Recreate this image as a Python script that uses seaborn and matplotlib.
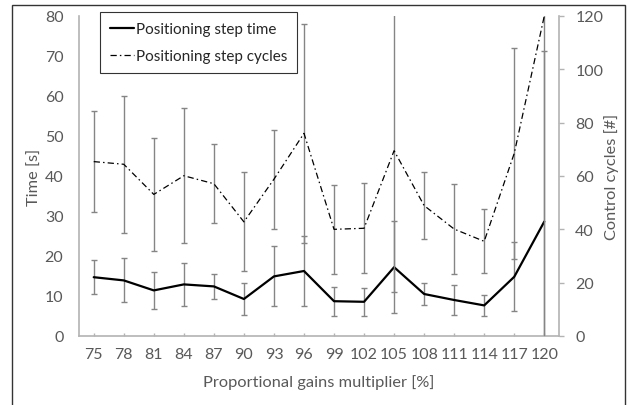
import matplotlib
matplotlib.use("Agg")
import matplotlib.pyplot as plt
import seaborn as sns
import numpy as np
import pandas as pd
from matplotlib.patches import Rectangle

# ---- data ----
multipliers = [75, 78, 81, 84, 87, 90, 93, 96, 99, 102, 105, 108, 111, 114, 117, 120]
time_s = [14.7, 13.9, 11.4, 12.9, 12.4, 9.25, 14.9, 16.25, 8.7, 8.55, 17.2, 10.5, 9.0, 7.65, 14.8, 28.6]
time_err = [4.3, 5.5, 4.6, 5.3, 3.15, 4.0, 7.5, 8.8, 3.6, 3.45, 11.5, 2.7, 3.75, 2.55, 8.6, 42.7]
cycles = [65.4, 64.4, 53.1, 60.1, 57.1, 42.8, 58.8, 76.0, 40.0, 40.4, 69.5, 48.9, 40.1, 35.5, 68.5, 120.0]
cycles_err = [19.0, 25.7, 21.1, 25.3, 14.8, 18.6, 18.6, 41.0, 16.7, 16.9, 53.0, 12.5, 17.0, 12.0, 39.6, 125.0]

sns.set_style("white")
plt.rcParams['font.family'] = ['Lato', 'DejaVu Sans']

TXT = "#595959"
AX = "#b3b3b3"
ERR = "#858585"

df = pd.DataFrame({"pos": np.arange(len(multipliers)), "time": time_s, "cycles": cycles})

fig = plt.figure(figsize=(6.29, 4.06), dpi=100)
ax = fig.add_axes([78.7/629, 1-337/406, (559.3-78.7)/629, (337-17)/406])
ax2 = ax.twinx()

# error bars
ax.errorbar(df["pos"], df["time"], yerr=time_err, fmt="none", ecolor=ERR,
            elinewidth=1.0, capsize=2.5, capthick=1.0, zorder=1)
ax2.errorbar(df["pos"], df["cycles"], yerr=cycles_err, fmt="none", ecolor=ERR,
             elinewidth=1.0, capsize=2.5, capthick=1.0, zorder=1)

sns.lineplot(data=df, x="pos", y="time", ax=ax, color="black", linewidth=1.6,
             label="Positioning step time", legend=False, zorder=3)
sns.lineplot(data=df, x="pos", y="cycles", ax=ax2, color="black", linewidth=0.9,
             label="Positioning step cycles", legend=False, zorder=3)
l_time = ax.lines[-1]
l_cyc = ax2.lines[-1]
l_cyc.set_dashes((5, 2.5, 1.2, 2.5))

ax.set_xlim(-0.5, len(multipliers) - 0.5)
ax.set_ylim(0, 80)
ax2.set_ylim(0, 120)
ax.set_xticks(np.arange(len(multipliers)))
ax.set_xticklabels([str(m) for m in multipliers])
ax.set_yticks(np.arange(0, 81, 10))
ax2.set_yticks(np.arange(0, 121, 20))

for a in (ax, ax2):
    for s in a.spines.values():
        s.set_visible(False)
ax.spines["left"].set_visible(True)
ax.spines["bottom"].set_visible(True)
ax2.spines["right"].set_visible(True)
for s in (ax.spines["left"], ax.spines["bottom"], ax2.spines["right"]):
    s.set_color(AX)
    s.set_linewidth(1.2)

TS = 11.5
ax.tick_params(axis="y", length=0, pad=11, labelsize=TS, labelcolor=TXT)
ax.tick_params(axis="x", direction="in", length=2.5, width=1, color=AX, pad=8,
               labelsize=TS, labelcolor=TXT, bottom=True)
ax2.tick_params(axis="y", direction="out", length=3.5, width=1, color=AX, pad=8,
                labelsize=TS, labelcolor=TXT, right=True)

LS = 11.8
ax.set_xlabel("Proportional gains multiplier [%]", fontsize=LS, color=TXT, labelpad=9)
ax.set_ylabel("Time [s]", fontsize=LS, color=TXT, labelpad=2)
ax2.set_ylabel("Control cycles [#]", fontsize=LS, color=TXT, labelpad=0.5)

leg = ax2.legend([l_time, l_cyc], ["Positioning step time", "Positioning step cycles"],
                 loc="upper left", bbox_to_anchor=(100/629, 1-13.3/406),
                 bbox_transform=fig.transFigure, borderaxespad=0, fontsize=11,
                 frameon=True, fancybox=False, handlelength=1.6, handletextpad=0.1,
                 borderpad=0.65, labelspacing=0.85)
leg.get_frame().set_edgecolor("black")
leg.get_frame().set_linewidth(0.8)
for t in leg.get_texts():
    t.set_color("#262626")

fig.patches.append(Rectangle((11.7/629, -0.1), (625-11.7)/629, 1.1-6/406,
                             transform=fig.transFigure, fill=False,
                             edgecolor="#333333", linewidth=1.0))

fig.savefig("out.png", dpi=100)
